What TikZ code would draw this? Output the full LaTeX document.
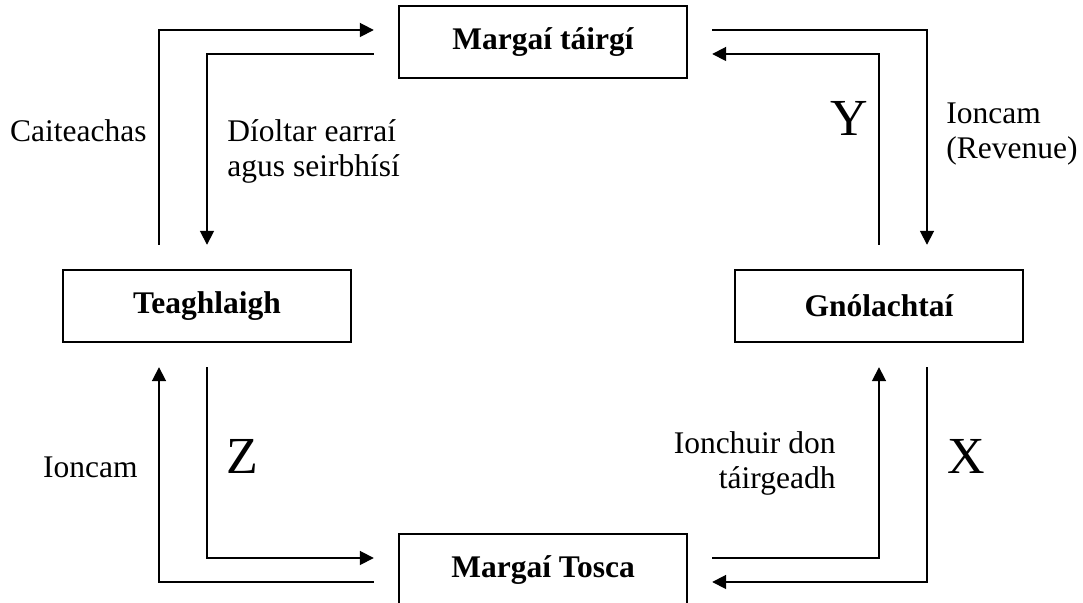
\documentclass[tikz,border=0pt]{standalone}
\usepackage{fontspec}
\setmainfont{Liberation Serif}
\usetikzlibrary{arrows.meta}

\begin{document}
\begin{tikzpicture}[x=0.5pt,y=-0.5pt,
 box/.style={draw,line width=1.2pt,minimum width=144pt,minimum height=36pt,inner sep=0pt,
  font=\fontsize{15.75}{17.5}\selectfont\bfseries},
 flow/.style={line width=0.9pt,-{Triangle[length=7pt,width=7pt]}},
 txt/.style={inner sep=0pt,font=\fontsize{15.75}{17.5}\selectfont},
 letter/.style={inner sep=0pt,font=\fontsize{26}{26}\selectfont}]
 \useasboundingbox (0,0) rectangle (1083,603);
 % the four boxes
 \node[box] (mprod) at (543,42) {Margaí táirgí};
 \node[box] (house) at (207,306) {Teaghlaigh};
 \node[box] (firms) at (879,306) {Gnólachtaí};
 \node[box] (mfact) at (543,570) {Margaí Tosca};
 % flows round the top
 \draw[flow] ([xshift=-24pt,yshift=12pt]house.north) |- ([xshift=-12pt,yshift=6pt]mprod.west);
 \draw[flow] ([xshift=-12pt,yshift=-6pt]mprod.west) -| ([yshift=12pt]house.north);
 \draw[flow] ([xshift=12pt,yshift=6pt]mprod.east) -| ([xshift=24pt,yshift=12pt]firms.north);
 \draw[flow] ([yshift=12pt]firms.north) |- ([xshift=12pt,yshift=-6pt]mprod.east);
 % flows round the bottom
 \draw[flow] ([yshift=-12pt]house.south) |- ([xshift=-12pt,yshift=6pt]mfact.west);
 \draw[flow] ([xshift=-12pt,yshift=-6pt]mfact.west) -| ([xshift=-24pt,yshift=-12pt]house.south);
 \draw[flow] ([xshift=12pt,yshift=6pt]mfact.east) -| ([yshift=-12pt]firms.south);
 \draw[flow] ([xshift=24pt,yshift=-12pt]firms.south) |- ([xshift=12pt,yshift=-6pt]mfact.east);
 % labels
 \node[txt,anchor=east] (spend) at (147,131) {Caiteachas};
 \node[txt,anchor=north west,align=left] (sold) at (227,119) {Díoltar earraí\\agus seirbhísí};
 \node[txt,anchor=north west,align=left] (rev) at (946,102) {Ioncam\\(Revenue)};
 \node[txt,anchor=east] (inc) at (138,467) {Ioncam};
 \node[txt,anchor=north east,align=right] (inp) at (836,431) {Ionchuir don\\táirgeadh};
 \node[letter] (y) at (849,118) {Y};
 \node[letter] (z) at (242,456) {Z};
 \node[letter] (x) at (966,456) {X};
\end{tikzpicture}
\end{document}
